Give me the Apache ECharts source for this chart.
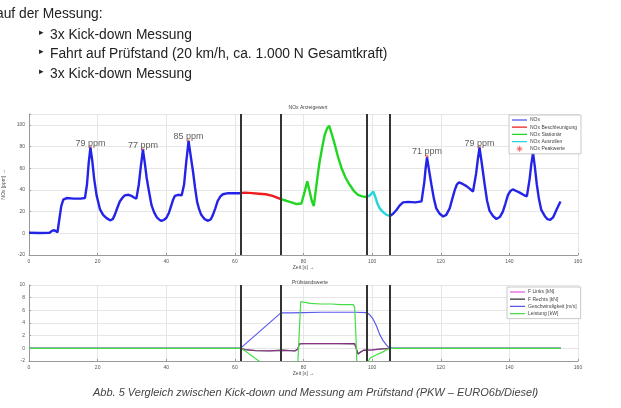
<!DOCTYPE html>
<html><head><meta charset="utf-8">
<script src="https://cdn.jsdelivr.net/npm/echarts@6/dist/echarts.min.js"></script>
<style>html,body{margin:0;padding:0;background:#fff}#c{width:621px;height:408px}</style>
</head><body><div id="c"></div>
<script>
// ---- slide text ----
const headLine = 'auf der Messung:';
const bullets = ['3x Kick-down Messung', 'Fahrt auf Prüfstand (20 km/h, ca. 1.000 N Gesamtkraft)', '3x Kick-down Messung'];
const caption = 'Abb. 5 Vergleich zwischen Kick-down und Messung am Prüfstand (PKW – EURO6b/Diesel)';
const topTitle = 'NOx Anzeigewert';
const bottomTitle = 'Prüfstandswerte';

// ---- phase boundaries (s) ----
const phaseBounds = [61.6, 73.4, 98.4, 105.2];

// ---- NOx display value [ppm] ----
const noxT = [0,3,6,6.8,7.4,7.8,8.3,8.8,9.4,10,11,13,15,16.3,16.9,17.4,17.9,18.4,19.0,19.7,20.7,21.6,22.6,23.6,24.4,25.0,25.8,26.5,27.3,27.9,29.0,29.9,30.6,31.3,32.0,32.6,33.2,33.7,34.3,35.0,35.7,36.5,37.2,38.0,38.6,39.4,40.1,40.8,41.5,42.0,42.5,43.5,44.5,45.2,45.8,46.5,47.1,47.8,48.4,49.0,49.6,50.2,51.2,52.2,53.0,53.6,54.3,55.0,55.8,56.5,58,60,61.6,
  63,65,67,69,71,73.4,
  75,76.5,78,79.4,80.3,81.1,81.7,82.4,83.0,83.6,84.2,84.7,85.5,86.2,86.9,87.5,88.2,89.1,90.1,91.1,92.3,93.5,94.7,95.9,97.1,98.4,
  99.4,100.3,101.0,101.6,102.2,103.2,104.2,105.2,
  106.1,107.1,108.0,109.0,110.5,112.5,114.4,115.2,115.6,116.0,116.6,117.3,118.0,118.7,119.7,120.7,121.6,122.6,123.3,124.1,124.7,125.3,126.4,127.5,128.5,129.4,130.3,130.8,131.3,131.9,132.8,133.5,134.2,135.2,136.2,137.2,138.1,138.8,139.6,140.3,141.0,142.0,143.0,144.1,145.1,145.9,146.4,146.9,147.4,148.0,148.6,149.3,150.3,151.1,151.9,152.8,153.7,154.3,154.9];
const noxV = [0.5,0.3,0.5,2.5,2.8,1,1,12,25,31,32.5,32,32,32.5,45,65,79,68,50,35,22,17,14,12,13,17,24,29.5,33,35,35.5,34.5,33,32,45,62,77,66,51,38,26,19,15,12.5,11.5,12.5,14.5,19,26,31,34.5,35.5,35,45,65,85,72,57,42,29,22,17,13,11.5,13,17,23,30,34,36,37,37,37,
  37.5,37,36.5,36,34.5,31.5,
  30,28.5,27,27.5,38,48,40,30,25,40,55,66,80,91,97,99,92,82,70,60,51,44.5,39,35.5,34,33.5,
  35,38.5,33,27,23,19.5,17,16,
  18,21.5,25.5,28.5,29,28.5,29.5,47,60,70,58,44.5,32,23,18,15.5,17,23,31,40,45,47,45.5,43.5,41,38.5,55,68,79,66,45,30,21,16,13.2,15,20,27,35.5,39,40.5,39,37.5,35.5,34,50,64,74,62,45,32,21.6,16,13,12.3,15,21.5,25.5,29.3];

// ---- NOx peak values ----
const peakT = [17.9, 33.2, 46.5, 116.0, 131.3, 146.9];
const peakV = [79, 77, 85, 71, 79, 74];
const peakLabels = ['79 ppm', '77 ppm', '85 ppm', '71 ppm', '79 ppm', ''];

// ---- test bench values ----
const leistT = [0,61.6,63,64.5,66,67.3,69,73,77.5,78.3,78.8,79.2,80,82,85,88,91,94.5,94.9,95.2,95.6,96.5,98.3,99.5,101,103,105.1,155];
const leistV = [0,0,-0.4,-1.0,-1.6,-2.1,-3,-4,-4.5,-3,3,7.4,7.3,7.1,7.0,7.0,6.9,6.9,6.5,3,-3,-4,-2.5,-1.5,-1.1,-0.6,0,0];
const speedT = [0,61.6,73.4,76,80,85,90,95,98.4,99.3,100.3,101.3,102.2,103.2,104.2,105.1,155];
const speedV = [0,0,5.6,5.6,5.65,5.7,5.7,5.7,5.65,5.3,4.6,3.5,2.2,1.2,0.5,0,0];
const forceT = [0,61.6,63,66,70,74,76,77.5,78.3,78.8,80,90,94.9,95.3,95.9,96.6,97.5,100,103,105.1,155];
const forceLV = [0,0,-0.2,-0.35,-0.4,-0.3,-0.35,-0.4,-0.15,0.7,0.75,0.75,0.72,0.1,-0.9,-0.6,-0.3,-0.25,-0.1,0,0];
const forceRV = [0,0,-0.2,-0.35,-0.4,-0.3,-0.35,-0.4,-0.15,0.7,0.75,0.75,0.72,0.1,-0.9,-0.6,-0.3,-0.25,-0.1,0,0];

// ---- axes ----
const xMin = 0, xMax = 160, xStep = 20;
const noxMin = -20, noxMax = 110, noxStep = 20;
const standMin = -2, standMax = 10, standStep = 2;

function pairs(ts, vs, lo, hi) {
  const out = [];
  for (let i = 0; i < ts.length; i++) if (ts[i] >= lo && ts[i] <= hi) out.push([ts[i], vs[i]]);
  return out;
}
function zip(ts, vs) { return ts.map((t, i) => [t, vs[i]]); }

const F = 'Liberation Sans, Arial, sans-serif';
const tiny = { fontFamily: F, fontSize: 5, color: '#555' };
const vlines = {
  silent: true, symbol: ['none', 'none'], label: { show: false },
  lineStyle: { color: '#333', width: 2, type: 'solid' },
  data: phaseBounds.map(b => ({ xAxis: b }))
};
const asterisk = 'path://M-0.6,-5L0.6,-5L0.6,5L-0.6,5ZM-5,-0.6L5,-0.6L5,0.6L-5,0.6ZM-3.9,-3.1L-3.1,-3.9L3.9,3.1L3.1,3.9ZM3.1,-3.9L3.9,-3.1L-3.1,3.9L-3.9,3.1Z';
const lineIcon = 'path://M0,0L0.01,0L0.01,0.01ZM0,2.4L15,2.4L15,3.6L0,3.6ZM0,5.99L0.01,5.99L0.01,6Z';

function xAxisCfg(gi) {
  return {
    gridIndex: gi, type: 'value', min: xMin, max: xMax, interval: xStep,
    name: 'Zeit [s] →', nameLocation: 'middle', nameGap: 9, nameTextStyle: tiny,
    axisLine: { show: true, onZero: false, lineStyle: { color: '#999', width: 1 } },
    axisTick: { show: true, inside: true, length: 2, lineStyle: { color: '#999' } },
    axisLabel: Object.assign({ margin: 4 }, tiny),
    splitLine: { show: true, lineStyle: { color: '#e6e6e6', width: 1 } }
  };
}
function yAxisCfg(gi, mn, mx, st, name) {
  return {
    gridIndex: gi, type: 'value', min: mn, max: mx, interval: st,
    name: name, nameLocation: 'middle', nameGap: 6, nameRotate: 90, nameTextStyle: tiny,
    axisLine: { show: true, lineStyle: { color: '#999', width: 1 } },
    axisTick: { show: true, inside: true, length: 2, lineStyle: { color: '#999' } },
    axisLabel: Object.assign({ margin: 4,
      formatter: v => (((v - mn) % st) === 0 ? String(v) : '') }, tiny),
    splitLine: { show: true, lineStyle: { color: '#e6e6e6', width: 1 } }
  };
}

const lineBase = { type: 'line', symbol: 'none', showSymbol: false, animation: false };
const legendBase = { orient: 'vertical', padding: [2, 4, 2, 3], itemGap: 1.2, itemWidth: 15, itemHeight: 6,
  borderColor: '#bbb', borderWidth: 0.8, backgroundColor: '#fff',
  textStyle: { fontFamily: F, fontSize: 5, color: '#444', padding: [0, 0, 0, -2] } };
const chart = echarts.init(document.getElementById('c'), null, { renderer: 'canvas' });
chart.setOption({
  backgroundColor: '#fff',
  animation: false,
  title: [
    { text: topTitle, left: 303, top: 100, textAlign: 'center', textStyle: { fontFamily: F, fontSize: 5, fontWeight: 'normal', color: '#444' } },
    { text: bottomTitle, left: 305, top: 275, textAlign: 'center', textStyle: { fontFamily: F, fontSize: 5, fontWeight: 'normal', color: '#444' } }
  ],
  grid: [
    { left: 29, width: 549, top: 114, height: 141, outerBoundsMode: 'none', containLabel: false },
    { left: 29, width: 549, top: 285, height: 76, outerBoundsMode: 'none', containLabel: false }
  ],
  xAxis: [xAxisCfg(0), xAxisCfg(1)],
  yAxis: [yAxisCfg(0, noxMin, noxMax, noxStep, 'NOx [ppm] →'), yAxisCfg(1, standMin, standMax, standStep, '')],
  legend: [
    Object.assign({}, legendBase, { left: 509, top: 115,
      data: [{ name: 'NOx', icon: lineIcon }, { name: 'NOx Beschleunigung', icon: lineIcon }, { name: 'NOx Stationär', icon: lineIcon },
             { name: 'NOx Ausrollen', icon: lineIcon }, { name: 'NOx Peakwerte' }] }),
    Object.assign({}, legendBase, { left: 507, top: 287,
      data: ['F Links [kN]', 'F Rechts [kN]', 'Geschwindigkeit [m/s]', 'Leistung [kW]'].map(n => ({ name: n, icon: lineIcon })) })
  ],
  graphic: [
    { type: 'text', left: -4, top: 7, style: { text: headLine, font: '13.8px ' + F, fill: '#222' } },
    ...bullets.map((b, i) => ({ type: 'text', left: 39, top: 28 + i * 19.5, style: { text: '▸', font: '9px DejaVu Sans, sans-serif', fill: '#222' } })),
    ...bullets.map((b, i) => ({ type: 'text', left: 50, top: 28 + i * 19.5, style: { text: b, font: '13.8px ' + F, fill: '#222' } })),
    { type: 'text', left: 93, top: 387, style: { text: caption, font: 'italic 11px ' + F, fill: '#444' } }
  ],
  series: [
    Object.assign({}, lineBase, { name: 'NOx', xAxisIndex: 0, yAxisIndex: 0, data: pairs(noxT, noxV, 0, phaseBounds[0]),
      lineStyle: { color: '#2424e8', width: 2.4 }, itemStyle: { color: '#2424e8' }, markLine: vlines }),
    Object.assign({}, lineBase, { name: 'NOx Beschleunigung', xAxisIndex: 0, yAxisIndex: 0, data: pairs(noxT, noxV, phaseBounds[0], phaseBounds[1]),
      lineStyle: { color: '#ee1c1c', width: 2.4 }, itemStyle: { color: '#ee1c1c' } }),
    Object.assign({}, lineBase, { name: 'NOx Stationär', xAxisIndex: 0, yAxisIndex: 0, data: pairs(noxT, noxV, phaseBounds[1], phaseBounds[2]),
      lineStyle: { color: '#22d622', width: 2.4 }, itemStyle: { color: '#22d622' } }),
    Object.assign({}, lineBase, { name: 'NOx Ausrollen', xAxisIndex: 0, yAxisIndex: 0, data: pairs(noxT, noxV, phaseBounds[2], phaseBounds[3]),
      lineStyle: { color: '#22d8d8', width: 2.4 }, itemStyle: { color: '#22d8d8' } }),
    Object.assign({}, lineBase, { name: 'NOx', xAxisIndex: 0, yAxisIndex: 0, data: pairs(noxT, noxV, phaseBounds[3], xMax),
      lineStyle: { color: '#2424e8', width: 2.4 }, itemStyle: { color: '#2424e8' } }),
    { type: 'scatter', name: 'NOx Peakwerte', xAxisIndex: 0, yAxisIndex: 0, symbol: asterisk, symbolSize: 4,
      itemStyle: { color: '#ee3333' }, animation: false,
      data: peakT.map((t, i) => ({ value: [t, peakV[i]], label: { show: !!peakLabels[i], formatter: peakLabels[i] } })),
      label: { position: 'top', distance: -2, fontFamily: F, fontSize: 9, color: '#333' } },
    Object.assign({}, lineBase, { name: 'F Rechts [kN]', xAxisIndex: 1, yAxisIndex: 1, data: zip(forceT, forceRV),
      lineStyle: { color: '#333333', width: 1.3 }, itemStyle: { color: '#333333' }, markLine: vlines }),
    Object.assign({}, lineBase, { name: 'F Links [kN]', xAxisIndex: 1, yAxisIndex: 1, data: zip(forceT, forceLV),
      lineStyle: { color: '#dd33dd', width: 1.1, opacity: 0.5 }, itemStyle: { color: '#dd33dd' } }),
    Object.assign({}, lineBase, { name: 'Geschwindigkeit [m/s]', xAxisIndex: 1, yAxisIndex: 1, data: zip(speedT, speedV),
      lineStyle: { color: '#5a5aee', width: 1.2 }, itemStyle: { color: '#5a5aee' } }),
    Object.assign({}, lineBase, { name: 'Leistung [kW]', xAxisIndex: 1, yAxisIndex: 1, data: zip(leistT, leistV), clip: true,
      lineStyle: { color: '#44dd44', width: 1.2 }, itemStyle: { color: '#44dd44' } })
  ]
});
</script></body></html>
